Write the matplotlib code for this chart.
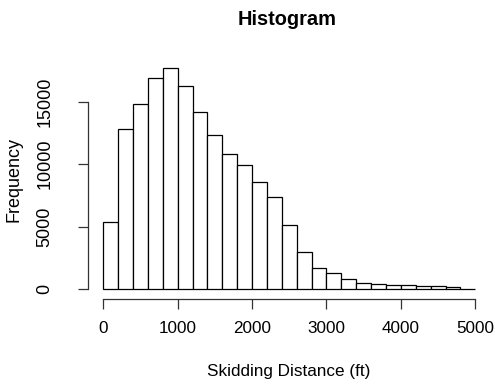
import numpy as np
import matplotlib
matplotlib.use("Agg")
import matplotlib.pyplot as plt

plt.rcParams['font.family'] = ['Liberation Sans', 'DejaVu Sans']

# bin edges (ft) and counts
bin_edges = np.arange(0, 5001, 200)
counts = [5350, 12850, 14830, 16860, 17700, 16250, 14190, 12300, 10800, 9940,
          8600, 7390, 5180, 2990, 1680, 1330, 830, 510, 450, 370,
          360, 290, 300, 160, 50]

x_ticks = [0, 1000, 2000, 3000, 4000, 5000]
y_ticks = [0, 5000, 10000, 15000]

fig = plt.figure(figsize=(4.95, 3.85), dpi=100)
ax = fig.add_axes([0.1784, 0.2234, 0.8115, 0.622])

ax.bar(bin_edges[:-1], counts, width=np.diff(bin_edges), align='edge',
       facecolor='white', edgecolor='black', linewidth=0.9)

ax.set_xlim(-202, 5198)
ax.set_ylim(-776, 18374)

# R-style axes: no box, axis lines only across the tick range
for s in ['top', 'right']:
    ax.spines[s].set_visible(False)
ax.spines['left'].set_bounds(0, 15000)
ax.spines['bottom'].set_bounds(0, 5000)
for s in ['left', 'bottom']:
    ax.spines[s].set_linewidth(0.9)
    ax.spines[s].set_color('#333333')

ax.set_xticks(x_ticks)
ax.set_xticklabels([str(t) for t in x_ticks], fontsize=12.3)
ax.set_yticks(y_ticks)
ax.set_yticklabels([str(t) for t in y_ticks], rotation=90, va='center', fontsize=13)
ax.tick_params(axis='both', direction='out', length=7, width=0.9,
               color='#333333')
ax.tick_params(axis='x', pad=9)
ax.tick_params(axis='y', pad=18)

ax.set_xlabel('Skidding Distance (ft)', fontsize=12.3, labelpad=20)
ax.set_ylabel('Frequency', fontsize=13, labelpad=10)
fig.suptitle('Histogram', fontsize=14.4, fontweight='bold', x=0.58, y=0.975)

fig.savefig('out.png', dpi=100)
